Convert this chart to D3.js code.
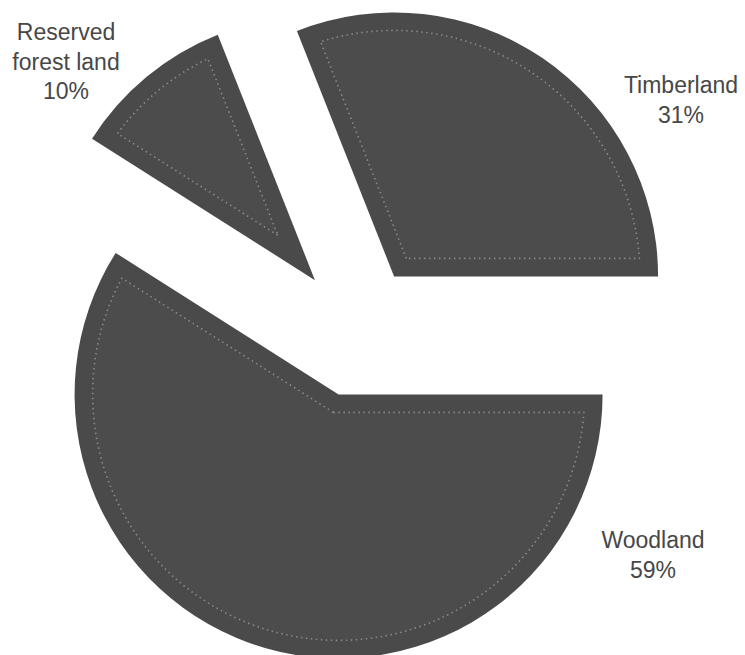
<!DOCTYPE html>
<html>
<head>
<meta charset="utf-8">
<script src="https://cdn.jsdelivr.net/npm/d3@7"></script>
<style>
  html, body { margin: 0; padding: 0; background: #ffffff; }
  svg { display: block; }
  text { font-family: "Liberation Sans", Arial, Helvetica, sans-serif; }
</style>
</head>
<body>
<svg id="chart" width="745" height="655"></svg>
<script>
// ---- data ----
const categories = ["Timberland", "Woodland", "Reserved forest land"];
const values = [31, 59, 10];
const labelLines = [["Timberland", "31%"], ["Woodland", "59%"], ["Reserved", "forest land", "10%"]];

// ---- layout / style ----
const W = 745, H = 655;
const center = [357, 331];
const radius = 264;
const explode = 66;
const inset = 18;
const startDeg = -21.6;
const fillColor = "#4a4a4a";
const innerFill = "#4c4c4c";
const labelPos = [[681, 93], [653, 548], [66, 40]];
const lineGap = 29.5;

const svg = d3.select("#chart");

const pie = d3.pie().sort(null).value(d => d)
  .startAngle(startDeg * Math.PI / 180)
  .endAngle(startDeg * Math.PI / 180 + 2 * Math.PI);
const arcs = pie(values);
const arcGen = d3.arc().innerRadius(0).outerRadius(radius);

const g = svg.append("g");

arcs.forEach((a, i) => {
  const mid = (a.startAngle + a.endAngle) / 2;
  const ox = center[0] + explode * Math.sin(mid);
  const oy = center[1] - explode * Math.cos(mid);
  const sg = g.append("g").attr("transform", `translate(${ox},${oy})`);
  sg.append("path").attr("d", arcGen(a)).attr("fill", fillColor);

  // inset "stitched" border
  const theta = a.endAngle - a.startAngle;
  const apexD = inset / Math.sin(theta / 2);
  const ax = apexD * Math.sin(mid), ay = -apexD * Math.cos(mid);
  const R = radius - inset;
  const delta = Math.asin(inset / R);
  const s = a.startAngle + delta, e = a.endAngle - delta;
  const p0 = [R * Math.sin(s), -R * Math.cos(s)];
  const p1 = [R * Math.sin(e), -R * Math.cos(e)];
  const large = (e - s) > Math.PI ? 1 : 0;
  const dIn = `M${ax},${ay}L${p0[0]},${p0[1]}A${R},${R} 0 ${large} 1 ${p1[0]},${p1[1]}Z`;
  sg.append("path").attr("d", dIn)
    .attr("fill", innerFill)
    .attr("stroke", "#9a9a9a")
    .attr("stroke-width", 1.6)
    .attr("stroke-dasharray", "1.5 3.5")
    .attr("stroke-opacity", 0.8)
    .attr("stroke-linejoin", "round");
});

// labels
categories.forEach((c, i) => {
  const t = svg.append("text")
    .attr("x", labelPos[i][0]).attr("y", labelPos[i][1])
    .attr("text-anchor", "middle")
    .attr("font-size", 23)
    .attr("fill", "#474747");
  labelLines[i].forEach((ln, k) => {
    t.append("tspan").attr("x", labelPos[i][0]).attr("y", labelPos[i][1] + k * lineGap).text(ln);
  });
});
</script>
</body>
</html>
